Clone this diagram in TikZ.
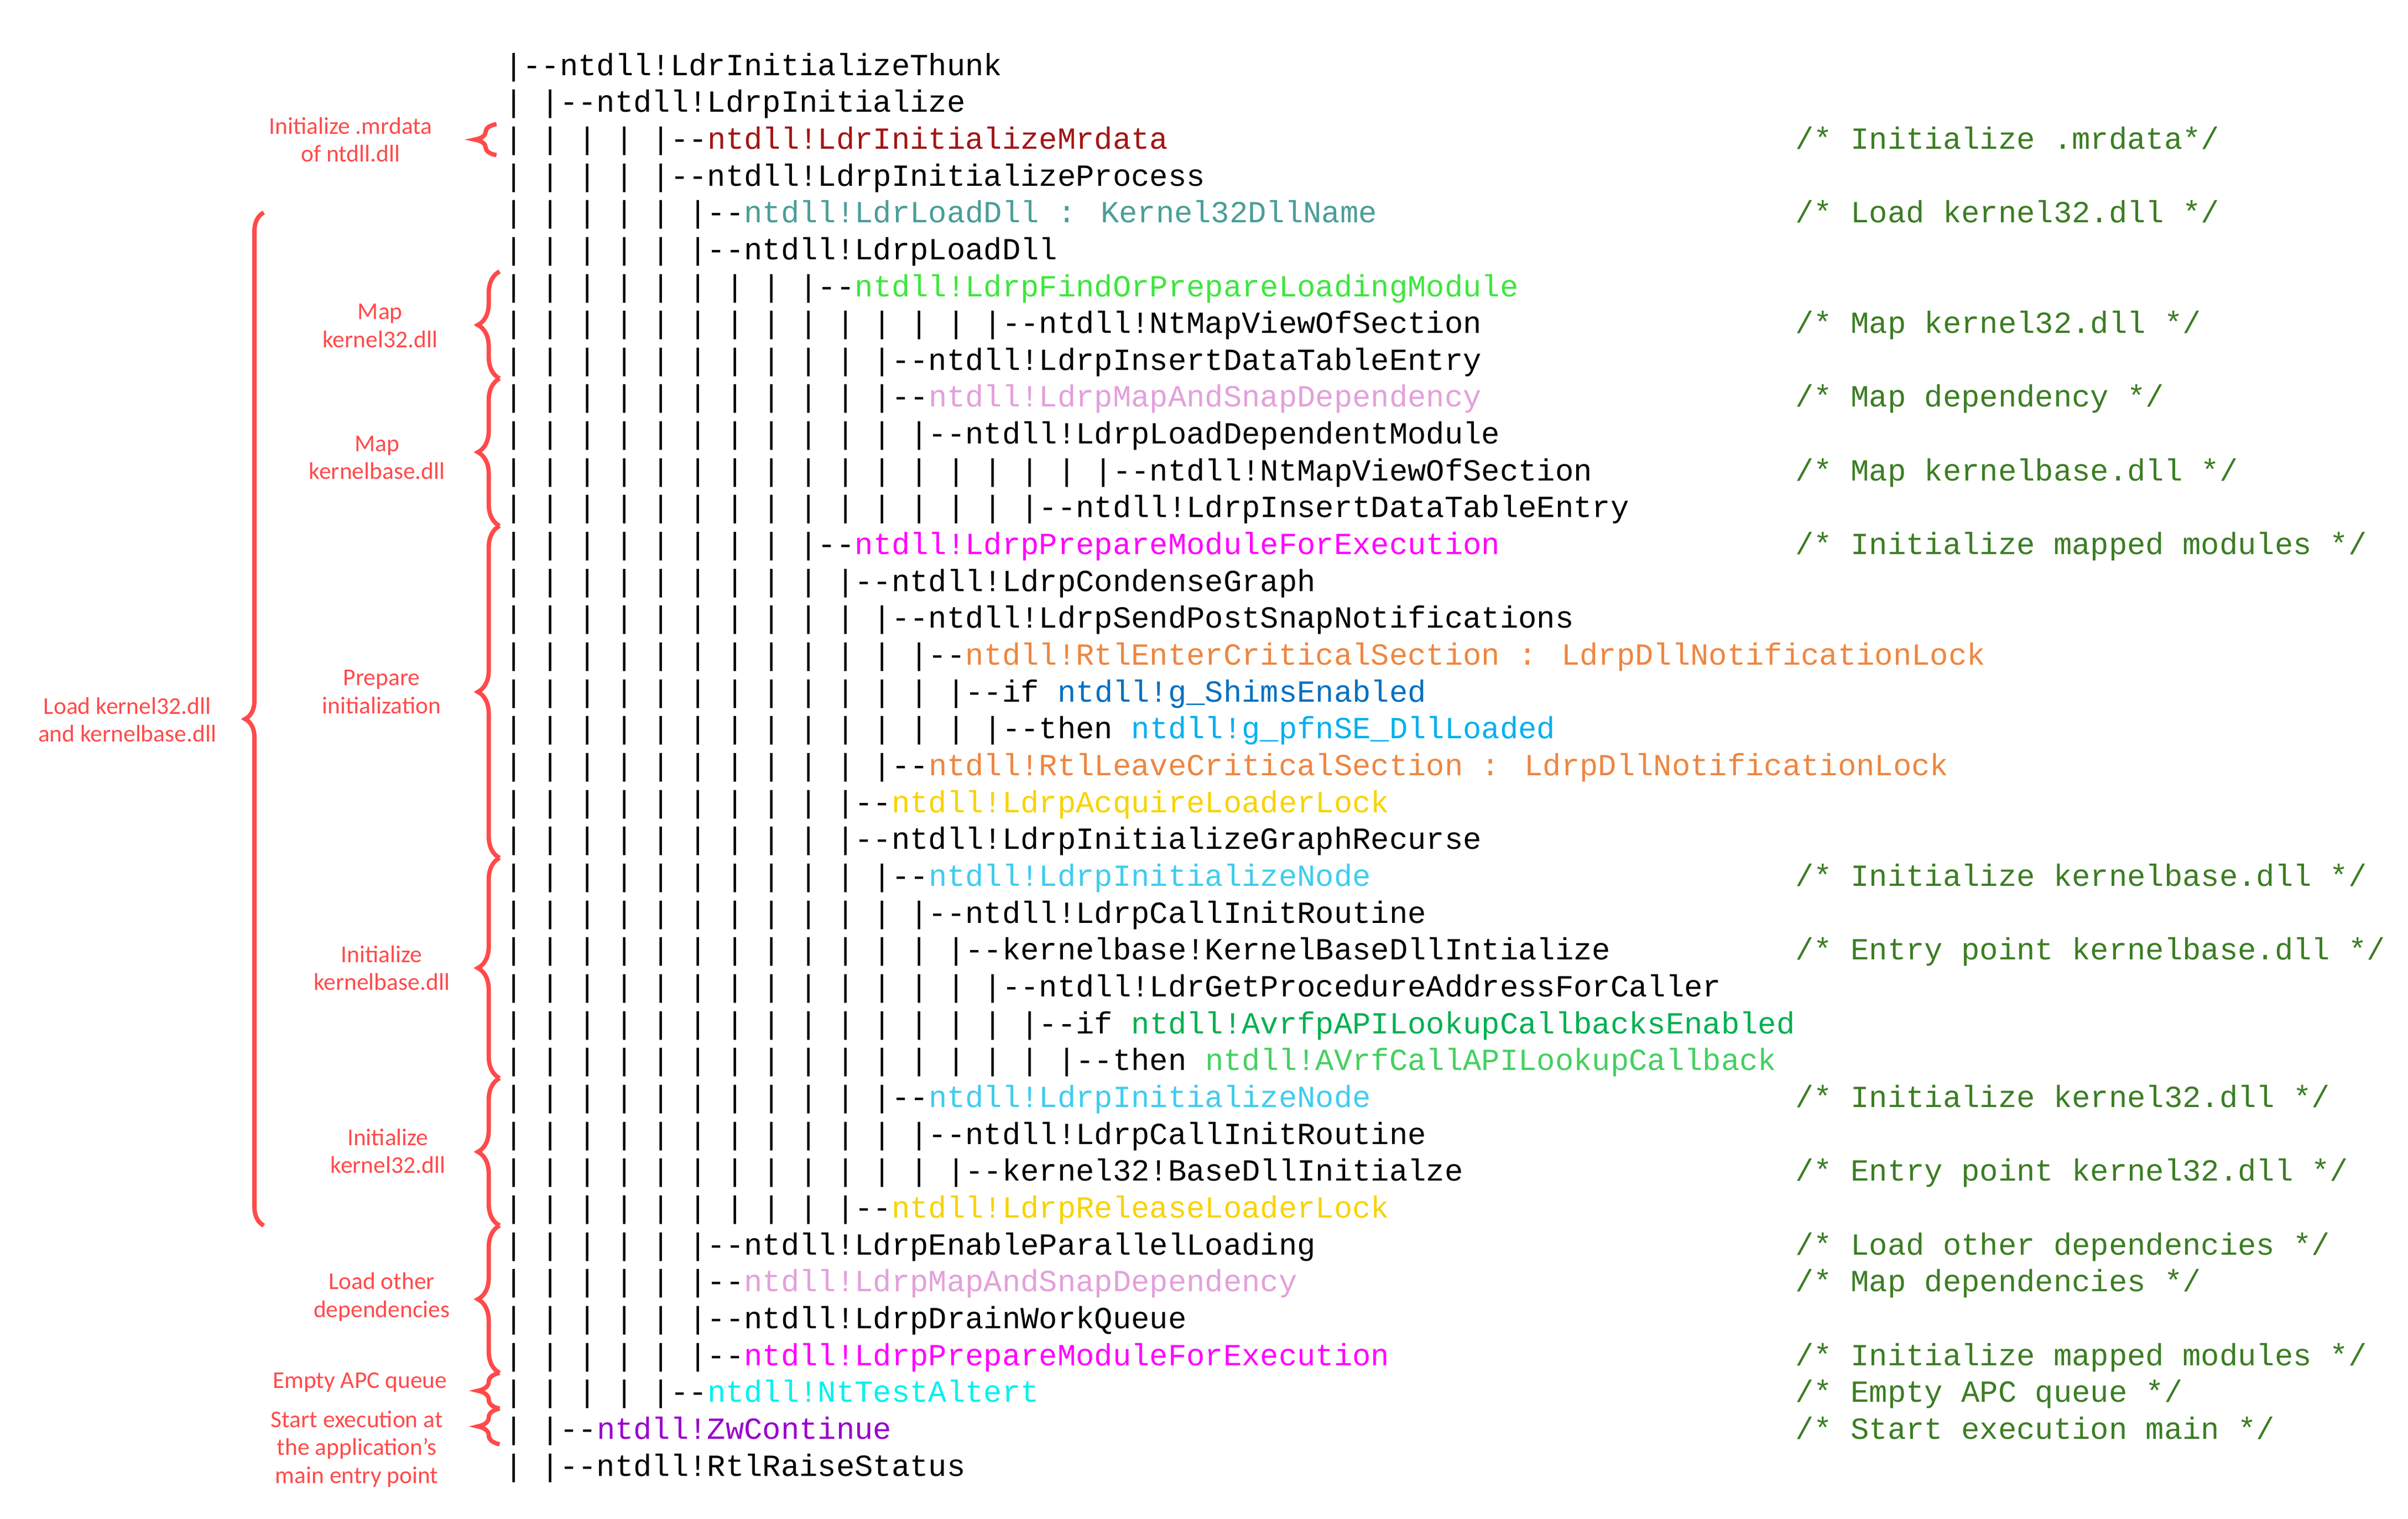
\documentclass[tikz,border=0pt]{standalone}
\usepackage{fontspec}
\setmainfont{Carlito}
\newfontfamily\codefont{Liberation Mono}
\usetikzlibrary{decorations.pathreplacing}
\definecolor{mrred}{HTML}{A31515}
\definecolor{tealc}{HTML}{4A9E98}
\definecolor{lgreen}{HTML}{3EE63E}
\definecolor{pinkc}{HTML}{E3A0DB}
\definecolor{magc}{HTML}{FF00FF}
\definecolor{orangec}{HTML}{EE8640}
\definecolor{bluec}{HTML}{0070C0}
\definecolor{lbluec}{HTML}{00B0F0}
\definecolor{yellowc}{HTML}{F8D300}
\definecolor{skyc}{HTML}{40CCEE}
\definecolor{greenb}{HTML}{00B050}
\definecolor{greenc}{HTML}{44D060}
\definecolor{cyanc}{HTML}{00F0F0}
\definecolor{purplec}{HTML}{9900CC}
\definecolor{cmtc}{HTML}{3B7D23}
\definecolor{brcc}{HTML}{FF4A4A}
\tikzset{
  code/.style={anchor=base west,inner sep=0pt,font=\codefont\fontsize{19.8}{24}\selectfont,text=black},
  cmt/.style={code,text=cmtc},
  brc/.style={draw=brcc,line width=2.8pt,decorate,decoration={brace,amplitude=#1,aspect=0.5}},
  lbl/.style={align=center,text=brcc,inner sep=0pt,font=\fontsize{15.5}{18}\selectfont},
}
\newcommand\R[3]{\node[code] (#2) at (325,{48.5+(#1-1)*23.76}) {#3};}
\newcommand\C[3]{\node[cmt] (#2) at (1157,{48.5+(#1-1)*23.76}) {#3};}
\begin{document}
\begin{tikzpicture}[x=1pt,y=-1pt]
\useasboundingbox (0,0) rectangle (1552,979);
\R{1}{r1}{|--ntdll!LdrInitializeThunk}
\R{2}{r2}{| |--ntdll!LdrpInitialize}
\R{3}{r3}{| | | | |--\textcolor{mrred}{ntdll!LdrInitializeMrdata}}
\C{3}{c3}{/* Initialize .mrdata*/}
\R{4}{r4}{| | | | |--ntdll!LdrpInitializeProcess}
\R{5}{r5}{| | | | | |--\textcolor{tealc}{ntdll!LdrLoadDll : Kernel32DllName}}
\C{5}{c5}{/* Load kernel32.dll */}
\R{6}{r6}{| | | | | |--ntdll!LdrpLoadDll}
\R{7}{r7}{| | | | | | | | |--\textcolor{lgreen}{ntdll!LdrpFindOrPrepareLoadingModule}}
\R{8}{r8}{| | | | | | | | | | | | | |--ntdll!NtMapViewOfSection}
\C{8}{c8}{/* Map kernel32.dll */}
\R{9}{r9}{| | | | | | | | | | |--ntdll!LdrpInsertDataTableEntry}
\R{10}{r10}{| | | | | | | | | | |--\textcolor{pinkc}{ntdll!LdrpMapAndSnapDependency}}
\C{10}{c10}{/* Map dependency */}
\R{11}{r11}{| | | | | | | | | | | |--ntdll!LdrpLoadDependentModule}
\R{12}{r12}{| | | | | | | | | | | | | | | | |--ntdll!NtMapViewOfSection}
\C{12}{c12}{/* Map kernelbase.dll */}
\R{13}{r13}{| | | | | | | | | | | | | | |--ntdll!LdrpInsertDataTableEntry}
\R{14}{r14}{| | | | | | | | |--\textcolor{magc}{ntdll!LdrpPrepareModuleForExecution}}
\C{14}{c14}{/* Initialize mapped modules */}
\R{15}{r15}{| | | | | | | | | |--ntdll!LdrpCondenseGraph}
\R{16}{r16}{| | | | | | | | | | |--ntdll!LdrpSendPostSnapNotifications}
\R{17}{r17}{| | | | | | | | | | | |--\textcolor{orangec}{ntdll!RtlEnterCriticalSection : LdrpDllNotificationLock}}
\R{18}{r18}{| | | | | | | | | | | | |--if \textcolor{bluec}{ntdll!g\_ShimsEnabled}}
\R{19}{r19}{| | | | | | | | | | | | | |--then \textcolor{lbluec}{ntdll!g\_pfnSE\_DllLoaded}}
\R{20}{r20}{| | | | | | | | | | |--\textcolor{orangec}{ntdll!RtlLeaveCriticalSection : LdrpDllNotificationLock}}
\R{21}{r21}{| | | | | | | | | |--\textcolor{yellowc}{ntdll!LdrpAcquireLoaderLock}}
\R{22}{r22}{| | | | | | | | | |--ntdll!LdrpInitializeGraphRecurse}
\R{23}{r23}{| | | | | | | | | | |--\textcolor{skyc}{ntdll!LdrpInitializeNode}}
\C{23}{c23}{/* Initialize kernelbase.dll */}
\R{24}{r24}{| | | | | | | | | | | |--ntdll!LdrpCallInitRoutine}
\R{25}{r25}{| | | | | | | | | | | | |--kernelbase!KernelBaseDllIntialize}
\C{25}{c25}{/* Entry point kernelbase.dll */}
\R{26}{r26}{| | | | | | | | | | | | | |--ntdll!LdrGetProcedureAddressForCaller}
\R{27}{r27}{| | | | | | | | | | | | | | |--if \textcolor{greenb}{ntdll!AvrfpAPILookupCallbacksEnabled}}
\R{28}{r28}{| | | | | | | | | | | | | | | |--then \textcolor{greenc}{ntdll!AVrfCallAPILookupCallback}}
\R{29}{r29}{| | | | | | | | | | |--\textcolor{skyc}{ntdll!LdrpInitializeNode}}
\C{29}{c29}{/* Initialize kernel32.dll */}
\R{30}{r30}{| | | | | | | | | | | |--ntdll!LdrpCallInitRoutine}
\R{31}{r31}{| | | | | | | | | | | | |--kernel32!BaseDllInitialze}
\C{31}{c31}{/* Entry point kernel32.dll */}
\R{32}{r32}{| | | | | | | | | |--\textcolor{yellowc}{ntdll!LdrpReleaseLoaderLock}}
\R{33}{r33}{| | | | | |--ntdll!LdrpEnableParallelLoading}
\C{33}{c33}{/* Load other dependencies */}
\R{34}{r34}{| | | | | |--\textcolor{pinkc}{ntdll!LdrpMapAndSnapDependency}}
\C{34}{c34}{/* Map dependencies */}
\R{35}{r35}{| | | | | |--ntdll!LdrpDrainWorkQueue}
\R{36}{r36}{| | | | | |--\textcolor{magc}{ntdll!LdrpPrepareModuleForExecution}}
\C{36}{c36}{/* Initialize mapped modules */}
\R{37}{r37}{| | | | |--\textcolor{cyanc}{ntdll!NtTestAltert}}
\C{37}{c37}{/* Empty APC queue */}
\R{38}{r38}{| |--\textcolor{purplec}{ntdll!ZwContinue}}
\C{38}{c38}{/* Start execution main */}
\R{39}{r39}{| |--ntdll!RtlRaiseStatus}

% braces
\draw[brc=14] (320,100) -- (320,80);
\draw[brc=12] (170,790) -- (170,137);
\draw[brc=14] (322,244) -- (322,175);
\draw[brc=14] (322,339) -- (322,244);
\draw[brc=14] (322,553) -- (322,339);
\draw[brc=14] (322,695) -- (322,553);
\draw[brc=14] (322,790) -- (322,695);
\draw[brc=14] (322,885) -- (322,790);
\draw[brc=14] (322,908) -- (322,885);
\draw[brc=14] (322,931) -- (322,908);

% labels
\node[lbl] (l1) at (226,90) {Initialize .mrdata\\of ntdll.dll};
\node[lbl] (l2) at (82,464) {Load kernel32.dll\\and kernelbase.dll};
\node[lbl] (l3) at (245,210) {Map\\kernel32.dll};
\node[lbl] (l4) at (243,295) {Map\\kernelbase.dll};
\node[lbl] (l5) at (246,446) {Prepare\\initialization};
\node[lbl] (l6) at (246,624) {Initialize\\kernelbase.dll};
\node[lbl] (l7) at (250,742) {Initialize\\kernel32.dll};
\node[lbl] (l8) at (246,836) {Load other\\dependencies};
\node[lbl] (l9) at (232,891) {Empty APC queue};
\node[lbl] (l10) at (230,934) {Start execution at\\the application's\\main entry point};
\end{tikzpicture}
\end{document}
